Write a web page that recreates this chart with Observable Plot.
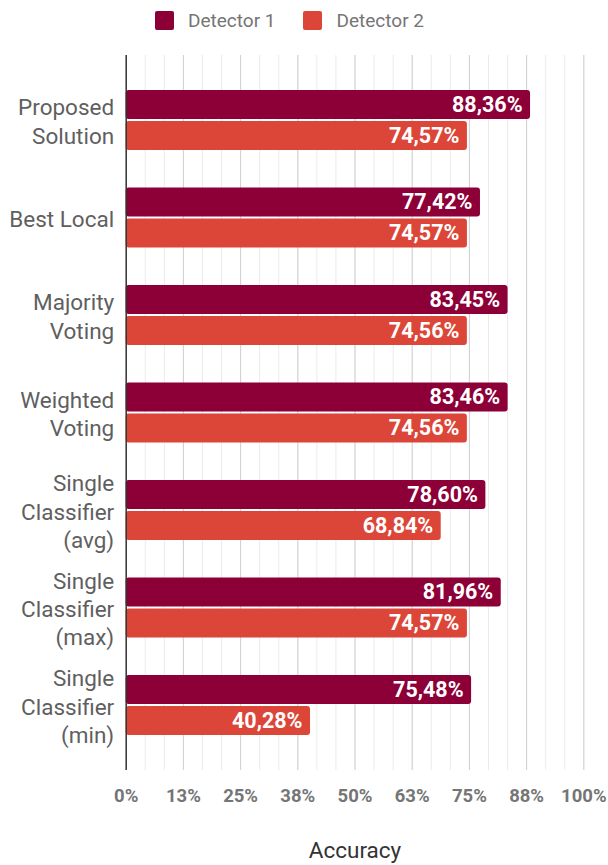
<!DOCTYPE html>
<html><head><meta charset="utf-8">
<script src="https://cdn.jsdelivr.net/npm/d3@7"></script>
<script src="https://cdn.jsdelivr.net/npm/@observablehq/plot@0.6"></script>
<style>
body{margin:0;background:#fff;font-family:Roboto,sans-serif;}
#legend{height:40px;display:flex;align-items:center;padding-left:155px;box-sizing:border-box;font-size:19px;color:#757575;}
.sw{width:19px;height:19px;border-radius:2px;margin-right:14px;flex:none;}
.lab{margin-right:28px;}
#chart svg{display:block;}
svg [aria-label^="x-axis"] text{font-size:18.5px;font-weight:700;fill:#757575;}
</style></head>
<body><div id="legend"></div><div id="chart"></div>
<script>
const categories = ["Proposed\nSolution","Best Local","Majority\nVoting","Weighted\nVoting","Single\nClassifier\n(avg)","Single\nClassifier\n(max)","Single\nClassifier\n(min)"];
const detector1 = [88.36,77.42,83.45,83.46,78.60,81.96,75.48];
const detector2 = [74.57,74.57,74.56,74.56,68.84,74.57,40.28];
const seriesNames = ["Detector 1","Detector 2"];
const seriesColors = ["#8c0037","#dc4639"];
const tickValues = [0,12.5,25,37.5,50,62.5,75,87.5,100];
const tickLabels = ["0%","13%","25%","38%","50%","63%","75%","88%","100%"];
const axisTitle = "Accuracy";

const minorTicks = d3.range(25).map(i => i * 25 / 6);
const rows1 = categories.map((c,i)=>({category:c, value:detector1[i]}));
const rows2 = categories.map((c,i)=>({category:c, value:detector2[i]}));
const fmt = v => v.toFixed(2).replace(".", ",") + "%";

const legend = document.getElementById("legend");
seriesNames.forEach((n,i)=>{
  const s=document.createElement("div"); s.className="sw"; s.style.background=seriesColors[i]; legend.appendChild(s);
  const t=document.createElement("div"); t.className="lab"; t.textContent=n; legend.appendChild(t);
});

const plot = Plot.plot({
  width:608, height:825, marginTop:15, marginBottom:95, marginLeft:125.7, marginRight:24.7,
  style:{fontFamily:"Roboto, sans-serif", background:"white"},
  x:{domain:[0,100], ticks:tickValues, tickFormat:d=>tickLabels[tickValues.indexOf(d)], tickSize:0, tickPadding:18, label:null},
  y:{domain:categories, axis:null, paddingInner:0.385, paddingOuter:0.359, round:false},
  marks:[
    Plot.ruleX(minorTicks,{stroke:"#ebebeb"}),
    Plot.ruleX(tickValues.slice(1),{stroke:"#d0d0d0"}),
    Plot.barX(rows1,{x:"value",y:"category",fill:seriesColors[0],insetBottom:31,rx:3}),
    Plot.barX(rows2,{x:"value",y:"category",fill:seriesColors[1],insetTop:31,rx:3}),
    Plot.ruleX([0],{stroke:"#333",strokeWidth:1.5}),
    Plot.text(rows1,{x:"value",y:"category",text:d=>fmt(d.value),dy:-15.5,dx:-8,textAnchor:"end",fill:"white",fontWeight:"bold",fontSize:21.5}),
    Plot.text(rows2,{x:"value",y:"category",text:d=>fmt(d.value),dy:15.5,dx:-8,textAnchor:"end",fill:"white",fontWeight:"bold",fontSize:21.5}),
    Plot.text(categories,{y:d=>d, frameAnchor:"left", dx:-12, textAnchor:"end", lineAnchor:"middle", lineHeight:1.25, fontSize:22.5, fill:"#5f5f5f"}),
    Plot.text([axisTitle],{frameAnchor:"bottom", lineAnchor:"middle", dy:80, fontSize:22.5, fill:"#333"})
  ]
});
document.getElementById("chart").appendChild(plot);
</script>
</body></html>
